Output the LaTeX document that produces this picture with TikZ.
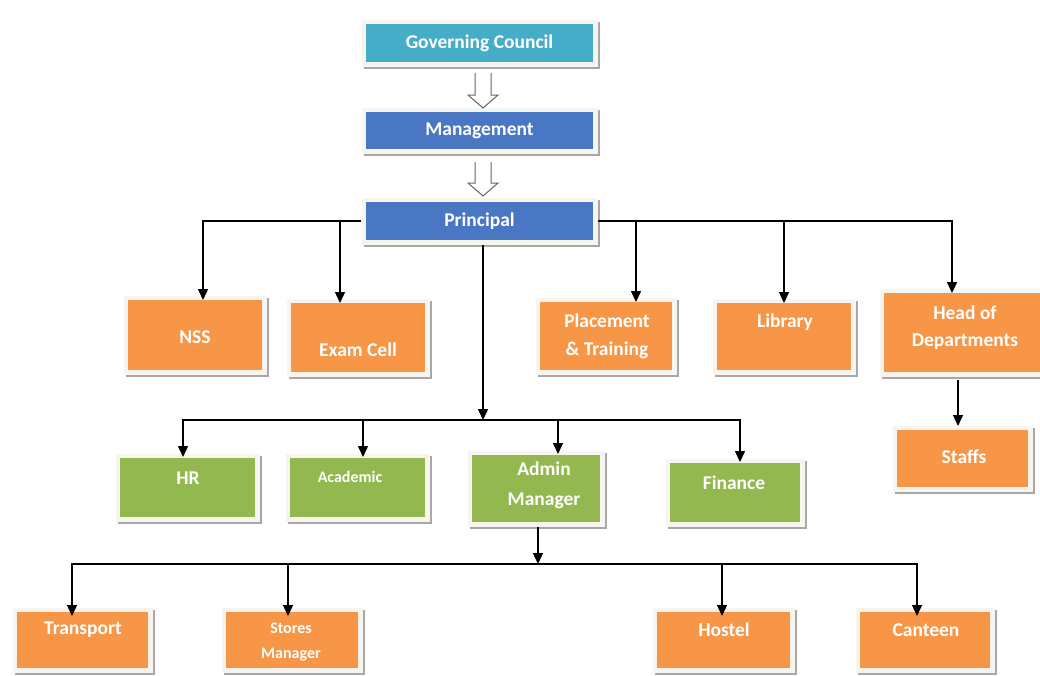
\documentclass[tikz,border=0pt]{standalone}
\usepackage{fontspec}
\setmainfont{Carlito}
\usetikzlibrary{arrows.meta,calc}
\definecolor{teal}{HTML}{45ADC8}
\definecolor{bblue}{HTML}{4A77C4}
\definecolor{borange}{HTML}{F79646}
\definecolor{bgreen}{HTML}{93B84F}
\definecolor{framec}{HTML}{F8F4EF}
\definecolor{shadowc}{HTML}{A8A8A8}
\begin{document}
\begin{tikzpicture}[x=1pt,y=-1pt,
  bx/.style={inner sep=0pt, outer sep=0pt, line join=miter, fill=#1,
    preaction={draw=shadowc, line width=9pt, transform canvas={shift={(2.5pt,-2.5pt)}}},
    preaction={draw=framec, line width=9pt}},
  txt/.style={text=white, font=\bfseries\fontsize{19.5}{28}\selectfont, align=center, inner sep=0pt},
  big/.style={txt, font=\bfseries\fontsize{19.5}{22}\selectfont},
  small/.style={txt, font=\bfseries\fontsize{16}{25}\selectfont},
  ln/.style={line width=1.4pt, draw=black},
  arr/.style={ln, -{Triangle[width=10pt,length=11pt]}, shorten <=5pt},
  hollow/.style={draw=gray!80!black, fill=white, line width=1pt, line join=miter}]
\useasboundingbox (0,0) rectangle (1040,675);
\begin{scope}
\clip (0,0) rectangle (1040,675);
% top chain
\node[bx=teal, minimum width=227pt, minimum height=38pt] (gc) at (479.5,43) {};
\node[big] (gct) at (479.5,43) {Governing Council};
\node[bx=bblue, minimum width=227pt, minimum height=37pt] (mg) at (479.5,130.5) {};
\node[big] (mgt) at (479.5,131) {Management};
\node[bx=bblue, minimum width=227pt, minimum height=38pt] (pr) at (479.5,221) {};
\node[big] (prt) at (479.5,221) {Principal};
% hollow arrows
\draw[hollow] (475,73) -- (475,95) -- (468,95) -- (483,108) -- (498,95) -- (491,95) -- (491,73);
\draw[hollow] (475,162) -- (475,183) -- (468,183) -- (483,196) -- (498,183) -- (491,183) -- (491,162);
% second row
\node[bx=borange, minimum width=134pt, minimum height=70pt] (nss) at (195,335) {};
\node[txt] (nsst) at (195,337) {NSS};
\node[bx=borange, minimum width=134pt, minimum height=69pt] (ex) at (358,337.5) {};
\node[txt] (ext) at (358,350) {Exam Cell};
\node[bx=borange, minimum width=132pt, minimum height=68pt] (pl) at (606,336) {};
\node[txt] (plt) at (607,336) {Placement\\\& Training};
\node[bx=borange, minimum width=134pt, minimum height=67pt] (lib) at (784,336.5) {};
\node[txt] (libt) at (785,322) {Library};
\node[bx=borange, minimum width=161pt, minimum height=79pt] (hod) at (964.5,332.5) {};
\node[txt, font=\bfseries\fontsize{19.5}{27}\selectfont] (hodt) at (965,327.5) {Head of\\Departments};
\node[bx=borange, minimum width=131pt, minimum height=57pt] (st) at (962.5,458.5) {};
\node[txt] (stt) at (964,457) {Staffs};
% third row
\node[bx=bgreen, minimum width=135pt, minimum height=59pt] (hr) at (187.5,487.5) {};
\node[txt] (hrt) at (188,478) {HR};
\node[bx=bgreen, minimum width=135pt, minimum height=59pt] (ac) at (357.5,487.5) {};
\node[small] (act) at (350,477) {Academic};
\node[bx=bgreen, minimum width=128pt, minimum height=67pt] (ad) at (536,488.5) {};
\node[txt, font=\bfseries\fontsize{19.5}{30}\selectfont] (adt) at (544,485) {Admin\\Manager};
\node[bx=bgreen, minimum width=130pt, minimum height=59pt] (fi) at (735,492.5) {};
\node[txt] (fit) at (734,483) {Finance};
% bottom row
\node[bx=borange, minimum width=131pt, minimum height=56pt] (tr) at (82.5,640) {};
\node[txt] (trt) at (83,630) {Transport};
\node[bx=borange, minimum width=132pt, minimum height=56pt] (sm) at (292,640) {};
\node[small] (smt) at (291,642.5) {Stores\\Manager};
\node[bx=borange, minimum width=133pt, minimum height=56pt] (ho) at (723.5,640) {};
\node[txt] (hot) at (724,630) {Hostel};
\node[bx=borange, minimum width=130pt, minimum height=56pt] (ca) at (925,640) {};
\node[txt] (cat) at (926,630) {Canteen};
% connectors from principal
\draw[arr] (pr.west) -| ([xshift=8pt]nss.north);
\draw[arr] (pr.west) -| ([xshift=-18pt]ex.north);
\draw[arr] (pr.east) -| ([xshift=30pt]pl.north);
\draw[arr] (pr.east) -| (lib.north);
\draw[arr] (pr.east) -| ([xshift=-12.5pt]hod.north);
\draw[arr, shorten <=8pt] ([xshift=-6.5pt]hod.south) -- ([xshift=-4.5pt,yshift=4pt]st.north);
% principal to middle bus
\coordinate (b1) at (483,420);
\draw[arr, shorten <=5pt] ([xshift=3.5pt]pr.south) -- (b1);
\draw[arr, shorten <=0pt] (b1) -| ([xshift=-4.5pt,yshift=1pt]hr.north);
\draw[arr, shorten <=0pt] (b1) -| ([xshift=5.5pt,yshift=1pt]ac.north);
\draw[arr, shorten <=0pt] (b1) -| ([xshift=22pt,yshift=1pt]ad.north);
\draw[arr, shorten <=0pt] (b1) -| ([xshift=5pt,yshift=1pt]fi.north);
% admin to bottom bus
\coordinate (b2) at (538,564);
\draw[arr, shorten <=5pt] ([xshift=2pt]ad.south) -- (b2);
\draw[arr, shorten <=0pt] (b2) -| ([xshift=-10.5pt,yshift=-4pt]tr.north);
\draw[arr, shorten <=0pt] (b2) -| ([xshift=-4pt,yshift=-4pt]sm.north);
\draw[arr, shorten <=0pt] (b2) -| ([xshift=-1.5pt,yshift=-4pt]ho.north);
\draw[arr, shorten <=0pt] (b2) -| ([xshift=-8pt,yshift=-4pt]ca.north);
\end{scope}
\end{tikzpicture}
\end{document}
